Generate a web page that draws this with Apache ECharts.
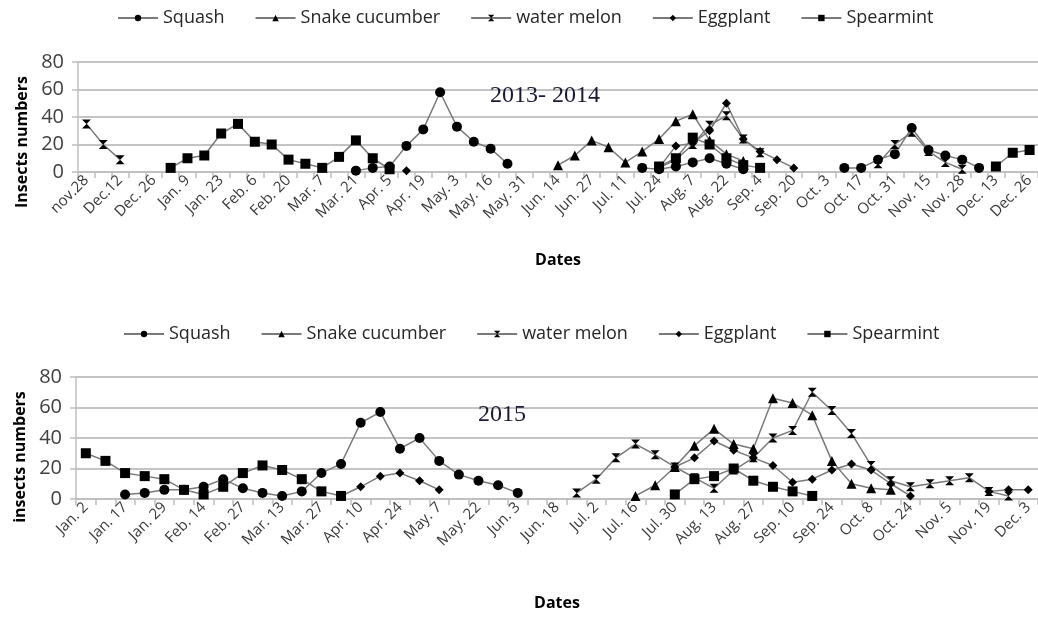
<!DOCTYPE html>
<html><head><meta charset="utf-8">
<script src="https://cdn.jsdelivr.net/npm/echarts@6/dist/echarts.min.js"></script>
<style>html,body{margin:0;padding:0;background:#fff}#c{width:1038px;height:617px}</style>
</head><body><div id="c"></div>
<script>
const _ = null;
const seriesNames = ['Squash', 'Snake cucumber', 'water melon', 'Eggplant', 'Spearmint'];

// Panel 1 (2013-2014): labelled dates (every other sampling date is labelled)
const dateLabels1 = ['nov.28','Dec.12','Dec. 26','Jan. 9','Jan. 23','Feb. 6','Feb. 20','Mar. 7','Mar. 21','Apr. 5','Apr. 19','May. 3','May. 16','May. 31','Jun. 14','Jun. 27','Jul. 11','Jul. 24','Aug. 7','Aug. 22','Sep. 4','Sep. 20','Oct. 3','Oct. 17','Oct. 31','Nov. 15','Nov. 28','Dec. 13','Dec. 26'];
const squash1 = [_,_,_,_,_,_,_,_,_,_,_,_,_,_,_,_, 1,3,4,19,31,58,33,22,17,6, _,_,_,_,_,_,_, 3,2,4,7,10,6,2, _,_,_,_,_, 3,3,9,13,32,16,12,9,3, _,_,_];
const snake1  = [_,_,_,_,_,_,_,_,_,_,_,_,_,_,_,_,_,_,_,_,_,_,_,_,_,_,_,_, 5,12,23,18,7,15,24,37,42,23,13,8, _,_,_,_,_,_,_,_,_,_,_,_,_,_,_,_,_];
const melon1  = [35,20,9, _,_,_,_,_,_,_,_,_,_,_,_,_,_,_,_,_,_,_,_,_,_,_,_,_,_,_,_,_,_,_, 3,9,20,34,41,24,14, _,_,_,_,_,_, 6,20,29,15,7,2, _,_,_,_];
const egg1    = [_,_,_,_,_,_,_,_,_,_,_,_,_,_,_,_,_,_,_, 1, _,_,_,_,_,_,_,_,_,_,_,_,_,_, 3,19,21,30,50,24,15,9,3, _,_,_,_,_,_,_,_,_,_,_,_,_,_];
const mint1   = [_,_,_,_,_, 3,10,12,28,35,22,20,9,6,3,11,23,10,2, _,_,_,_,_,_,_,_,_,_,_,_,_,_,_, 4,10,25,20,10,5,3, _,_,_,_,_,_,_,_,_,_,_,_,_, 4,14,16];

// Panel 2 (2015)
const dateLabels2 = ['Jan. 2','Jan. 17','Jan. 29','Feb. 14','Feb. 27','Mar. 13','Mar. 27','Apr. 10','Apr. 24','May. 7','May. 22','Jun. 3','Jun. 18','Jul. 2','Jul. 16','Jul. 30','Aug. 13','Aug. 27','Sep. 10','Sep. 24','Oct. 8','Oct. 24','Nov. 5','Nov. 19','Dec. 3'];
const squash2 = [_,_, 3,4,6,6,8,13,7,4,2,5,17,23,50,57,33,40,25,16,12,9,4, _,_,_,_,_,_,_,_,_,_,_,_,_,_,_,_,_,_,_,_,_,_,_,_,_,_];
const snake2  = [_,_,_,_,_,_,_,_,_,_,_,_,_,_,_,_,_,_,_,_,_,_,_,_,_,_,_,_, 2,9,21,35,46,36,33,66,63,55,25,10,7,6, _,_,_,_,_,_,_];
const melon2  = [_,_,_,_,_,_,_,_,_,_,_,_,_,_,_,_,_,_,_,_,_,_,_,_,_, 4,13,27,36,29,21,14,7,19,27,40,45,70,58,43,22,12,8,10,12,14,5,2, _];
const egg2    = [_,_,_,_,_,_,_,_,_,_,_,_,_, 2,8,15,17,12,6, _,_,_,_,_,_,_,_,_,_,_, 21,27,38,32,27,22,11,13,19,23,19,10,2, _,_,_, 5,6,6];
const mint2   = [30,25,17,15,13,6,3,8,17,22,19,13,5,2, _,_,_,_,_,_,_,_,_,_,_,_,_,_,_,_, 3,13,15,20,12,8,5,2, _,_,_,_,_,_,_,_,_,_,_];

const yTicks = [0, 20, 40, 60, 80];

function expand(labels) {
  const out = [];
  labels.forEach((l, i) => { out.push(l); if (i < labels.length - 1) out.push(''); });
  return out;
}
const cats1 = expand(dateLabels1);
const cats2 = expand(dateLabels2);

const markers = ['circle', 'triangle', 'path://M0,0L10,0L5,5L10,10L0,10L5,5Z', 'diamond', 'rect'];
const sizes = [10, 10, 9, 9, 10];

function mk(data, i, g) {
  return {
    name: seriesNames[i], type: 'line', xAxisIndex: g, yAxisIndex: g, data: data,
    symbol: markers[i], symbolSize: sizes[i], showAllSymbol: true, connectNulls: false,
    lineStyle: { color: '#7a7a7a', width: 1.5 },
    itemStyle: { color: '#000', borderColor: '#000', borderWidth: 0 },
    emphasis: { disabled: true }, z: 3
  };
}

const font = 'Open Sans';
function xAx(g, cats, gap) {
  return {
    type: 'category', gridIndex: g, data: cats, boundaryGap: true,
    name: 'Dates', nameLocation: 'middle', nameGap: gap,
    nameTextStyle: { fontFamily: font, fontWeight: 'bold', fontSize: 16, color: '#000' },
    axisLine: { lineStyle: { color: '#bfbfbf', width: 1.5 } },
    axisTick: { show: true, interval: 0, length: 6, lineStyle: { color: '#bfbfbf', width: 1.5 } },
    axisLabel: { interval: 0, rotate: 45, fontFamily: font, fontSize: 15, color: '#3a3a3a', margin: 6 },
    splitLine: { show: false }
  };
}
function yAx(g, name, pad) {
  return {
    type: 'value', gridIndex: g, min: yTicks[0], max: yTicks[yTicks.length - 1], interval: 20,
    name: name, nameLocation: 'middle', nameGap: 48,
    nameTextStyle: { fontFamily: font, fontWeight: 'bold', fontSize: 16, color: '#000', padding: [0, pad, 0, 0] },
    axisLine: { show: true, lineStyle: { color: '#bfbfbf', width: 1.5 } },
    axisTick: { show: true, length: 6, lineStyle: { color: '#bfbfbf', width: 1.5 } },
    axisLabel: { fontFamily: font, fontSize: 20, color: '#404040', margin: 14 },
    splitLine: { show: true, lineStyle: { color: '#c4c4c4', width: 2 } }
  };
}
function lg(left, top) {
  return {
    left: left, top: top, itemWidth: 40, itemHeight: 8, itemGap: 30, data: seriesNames,
    textStyle: { fontFamily: font, fontSize: 18, color: '#262626' }, selectedMode: false
  };
}

const chart = echarts.init(document.getElementById('c'));
chart.setOption({
  animation: false,
  backgroundColor: '#fff',
  title: [
    { text: '2013- 2014', left: 485, top: 79, textStyle: { fontFamily: 'Liberation Serif', fontWeight: 'normal', fontSize: 24, color: '#1a1a33' } },
    { text: '2015', left: 473, top: 398, textStyle: { fontFamily: 'Liberation Serif', fontWeight: 'normal', fontSize: 24, color: '#1a1a33' } }
  ],
  legend: [lg(112, 4), lg(118, 320)],
  grid: [
    { left: 78, top: 62, width: 963, height: 110 },
    { left: 76, top: 377, width: 963, height: 122 }
  ],
  xAxis: [xAx(0, cats1, 80), xAx(1, cats2, 96)],
  yAxis: [yAx(0, 'Insects numbers', 50), yAx(1, 'insects numbers', 38)],
  series: [
    mk(squash1, 0, 0), mk(snake1, 1, 0), mk(melon1, 2, 0), mk(egg1, 3, 0), mk(mint1, 4, 0),
    mk(squash2, 0, 1), mk(snake2, 1, 1), mk(melon2, 2, 1), mk(egg2, 3, 1), mk(mint2, 4, 1)
  ]
});
</script>
</body></html>
